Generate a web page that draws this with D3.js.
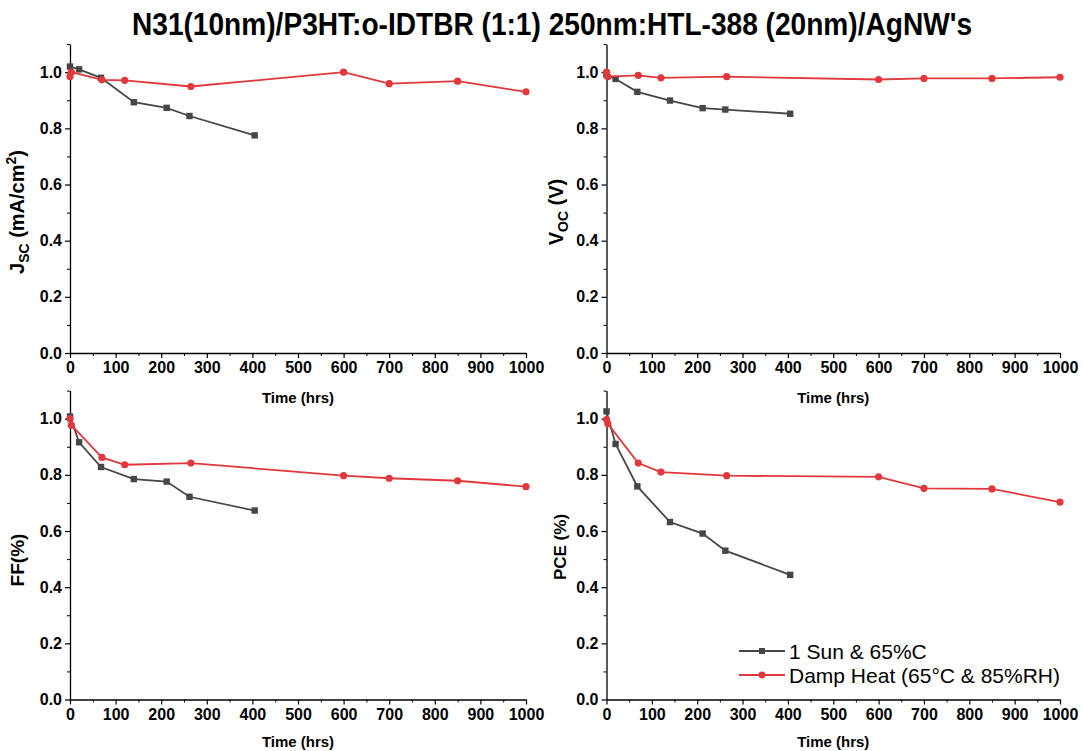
<!DOCTYPE html>
<html>
<head>
<meta charset="utf-8">
<script src="https://cdn.jsdelivr.net/npm/d3@7"></script>
<style>
  body { margin: 0; background: #fff; }
  svg text { font-family: Arial, "Liberation Sans", sans-serif; }
</style>
</head>
<body>
<div id="chart"></div>
<script>
// Data (normalised values)
const sunTime = [0, 20, 68, 140, 212, 262, 405];
const heatTime = [0, 3, 70, 120, 265, 600, 700, 850, 1000];

const jscSun = [1.02, 1.01, 0.98, 0.893, 0.873, 0.844, 0.775];
const jscHeat = [0.985, 1.0, 0.973, 0.971, 0.949, 1.0, 0.959, 0.968, 0.93];
const vocSun = [0.99, 0.976, 0.93, 0.899, 0.872, 0.867, 0.852];
const vocHeat = [1.0, 0.984, 0.989, 0.98, 0.984, 0.974, 0.978, 0.978, 0.982];
const ffSun = [1.008, 0.916, 0.828, 0.785, 0.776, 0.722, 0.673];
const ffHeat = [1.0, 0.977, 0.862, 0.836, 0.842, 0.797, 0.788, 0.779, 0.758];
const pceSun = [1.026, 0.91, 0.759, 0.632, 0.591, 0.53, 0.444];
const pceHeat = [0.997, 0.982, 0.842, 0.81, 0.797, 0.793, 0.752, 0.75, 0.703];

const xTicks = [0, 100, 200, 300, 400, 500, 600, 700, 800, 900, 1000];
const xMinor = [50, 150, 250, 350, 450, 550, 650, 750, 850, 950];
const yTicks = [0, 0.2, 0.4, 0.6, 0.8, 1.0];
const yMinor = [0.1, 0.3, 0.5, 0.7, 0.9, 1.1];
const seriesNames = ['1 Sun & 65%C', 'Damp Heat (65°C & 85%RH)'];

const title = "N31(10nm)/P3HT:o-IDTBR (1:1) 250nm:HTL-388 (20nm)/AgNW's";
const colSun = '#464646';
const colHeat = '#e0383c';

const W = 1083, H = 751;
const svg = d3.select('#chart').append('svg')
    .attr('width', W)
    .attr('height', H);

svg.append('text')
    .attr('x', 552)
    .attr('y', 35)
    .attr('text-anchor', 'middle')
    .attr('font-size', 31)
    .attr('font-weight', 'bold')
    .attr('textLength', 840)
    .attr('lengthAdjust', 'spacingAndGlyphs')
    .text(title);

// panel layout
const panels = [
    { sun: jscSun, heat: jscHeat, x0: 70, x1: 526, y0: 353, label: 'jsc', lx: 24, ly: 212 },
    { sun: vocSun, heat: vocHeat, x0: 606.5, x1: 1060, y0: 353, label: 'voc', lx: 563, ly: 212 },
    { sun: ffSun, heat: ffHeat, x0: 70, x1: 526, y0: 699.5, label: 'FF(%)', lx: 24, ly: 560 },
    { sun: pceSun, heat: pceHeat, x0: 606.5, x1: 1060, y0: 699.5, label: 'PCE (%)', lx: 566, ly: 547 }
];
const unit = 280.8;

panels.forEach(p => {
    const g = svg.append('g');
    const x = d3.scaleLinear().domain([0, 1000]).range([p.x0, p.x1]);
    const y = d3.scaleLinear().domain([0, 1.1]).range([p.y0, p.y0 - 1.1 * unit]);

    // minor ticks
    g.append('g')
        .attr('transform', `translate(0,${p.y0})`)
        .call(d3.axisBottom(x).tickValues(xMinor).tickSize(3).tickFormat('').tickSizeOuter(0))
        .call(a => a.select('.domain').remove());
    g.append('g')
        .attr('transform', `translate(${p.x0},0)`)
        .call(d3.axisLeft(y).tickValues(yMinor).tickSize(3).tickFormat('').tickSizeOuter(0))
        .call(a => a.select('.domain').remove());

    // major axes
    const xa = g.append('g')
        .attr('transform', `translate(0,${p.y0})`)
        .call(d3.axisBottom(x).tickValues(xTicks).tickSize(5).tickPadding(4).tickSizeOuter(0).tickFormat(d3.format('d')));
    const ya = g.append('g')
        .attr('transform', `translate(${p.x0},0)`)
        .call(d3.axisLeft(y).tickValues(yTicks).tickSize(5).tickPadding(3).tickSizeOuter(0).tickFormat(d3.format('.1f')));

    [xa, ya].forEach(a => {
        a.select('.domain').attr('stroke', '#000').attr('stroke-width', 1.3);
        a.selectAll('.tick line').attr('stroke', '#000').attr('stroke-width', 1.2);
        a.selectAll('.tick text')
            .attr('fill', '#000')
            .attr('font-size', 16)
            .attr('font-weight', 'bold')
            .style('font-family', 'Arial, "Liberation Sans", sans-serif');
    });
    g.selectAll('.tick line').attr('stroke', '#000');

    // x title
    g.append('text')
        .attr('x', (p.x0 + p.x1) / 2)
        .attr('y', p.y0 + (p.y0 > 400 ? 47 : 50))
        .attr('text-anchor', 'middle')
        .attr('font-size', 15)
        .attr('font-weight', 'bold')
        .text('Time (hrs)');

    // y title
    const yt = g.append('text')
        .attr('transform', `translate(${p.lx},${p.ly}) rotate(-90)`)
        .attr('text-anchor', 'middle')
        .attr('font-weight', 'bold');
    if (p.label === 'jsc') {
        yt.attr('font-size', 20);
        yt.append('tspan').text('J');
        yt.append('tspan').attr('font-size', 14).attr('dy', 5).text('SC');
        yt.append('tspan').attr('dy', -5).text(' (mA/cm');
        yt.append('tspan').attr('font-size', 14).attr('dy', -8).text('2');
        yt.append('tspan').attr('dy', 8).text(')');
    } else if (p.label === 'voc') {
        yt.attr('font-size', 20);
        yt.append('tspan').text('V');
        yt.append('tspan').attr('font-size', 14).attr('dy', 5).text('OC');
        yt.append('tspan').attr('dy', -5).text(' (V)');
    } else {
        yt.attr('font-size', p.label === 'FF(%)' ? 19 : 17).text(p.label);
    }

    const line = d3.line().x(d => x(d[0])).y(d => y(d[1]));
    const sunPts = sunTime.map((t, i) => [t, p.sun[i]]);
    const heatPts = heatTime.map((t, i) => [t, p.heat[i]]);

    g.append('path').datum(sunPts)
        .attr('fill', 'none').attr('stroke', colSun).attr('stroke-width', 1.8)
        .attr('d', line);
    g.selectAll('.sq').data(sunPts).enter().append('rect')
        .attr('x', d => x(d[0]) - 3.2).attr('y', d => y(d[1]) - 3.2)
        .attr('width', 6.4).attr('height', 6.4).attr('fill', colSun);

    g.append('path').datum(heatPts)
        .attr('fill', 'none').attr('stroke', colHeat).attr('stroke-width', 1.8)
        .attr('d', line);
    g.selectAll('.ci').data(heatPts).enter().append('circle')
        .attr('cx', d => x(d[0])).attr('cy', d => y(d[1]))
        .attr('r', 3.6).attr('fill', colHeat);
});

// legend
const legend = svg.append('g').attr('transform', 'translate(739,651)');
seriesNames.forEach((name, i) => {
    const row = legend.append('g').attr('transform', `translate(0,${i * 24})`);
    const c = i === 0 ? colSun : colHeat;
    row.append('line').attr('x1', 0).attr('x2', 46).attr('stroke', c).attr('stroke-width', 1.8);
    if (i === 0) {
        row.append('rect').attr('x', 20).attr('y', -3).attr('width', 6).attr('height', 6).attr('fill', c);
    } else {
        row.append('circle').attr('cx', 23).attr('r', 3.4).attr('fill', c);
    }
    row.append('text')
        .attr('x', 50).attr('y', 7.5)
        .attr('font-size', 21)
        .text(name);
});
</script>
</body>
</html>
